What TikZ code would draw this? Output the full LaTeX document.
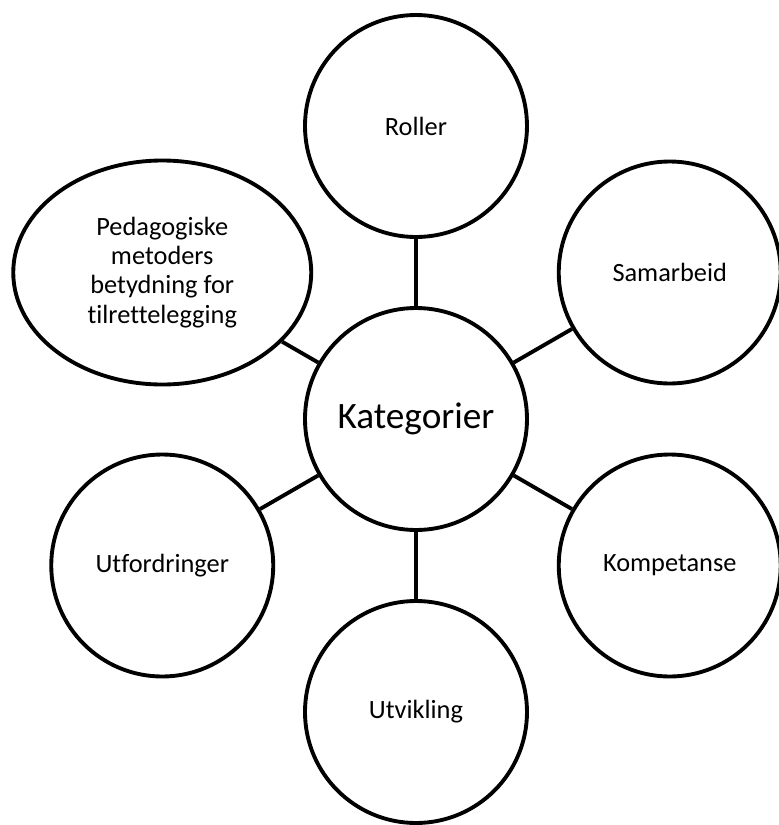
\documentclass[tikz,border=0pt]{standalone}
\usepackage{fontspec}
\setmainfont{Carlito}[Ligatures=NoCommon]
\usetikzlibrary{shapes.geometric}
\tikzset{
	kat/.style={draw, line width=1.1pt, circle, minimum size=2.22cm, inner sep=0pt, font=\fontsize{7.5}{8.3}\selectfont},
	katmid/.style={kat, font=\fontsize{10.6}{12}\selectfont},
	katoval/.style={draw, line width=1.1pt, ellipse, minimum width=2.98cm, minimum height=2.24cm, inner sep=0pt, align=center, font=\fontsize{7.5}{8.3}\selectfont},
	link/.style={line width=1.1pt}
}
\begin{document}
\begin{tikzpicture}
	\useasboundingbox (-4.16,-4.06) rectangle (3.62,4.19);
	\node[katmid] (kat) at (0,0) {Kategorier};
	
	\node[kat] (roller) at (90:2.93) {Roller};
	\node[kat] (samarbeid) at (30:2.93) {Samarbeid};
	\node[kat] (kompetanse) at (-30:2.93) {Kompetanse};
	\node[kat] (utvikling) at (-90:2.93) {Utvikling};
	\node[kat] (utfordringer) at (-150:2.93) {Utfordringer};
	\node[katoval] (pedagogiske) at (150:2.93) {Pedagogiske\\metoders\\betydning for\\tilrettelegging};
	
	\draw[link] (kat) -- (roller);
	\draw[link] (kat) -- (samarbeid);
	\draw[link] (kat) -- (kompetanse);
	\draw[link] (kat) -- (utvikling);
	\draw[link] (kat) -- (utfordringer);
	\draw[link] (kat) -- (pedagogiske);
\end{tikzpicture}
\end{document}
